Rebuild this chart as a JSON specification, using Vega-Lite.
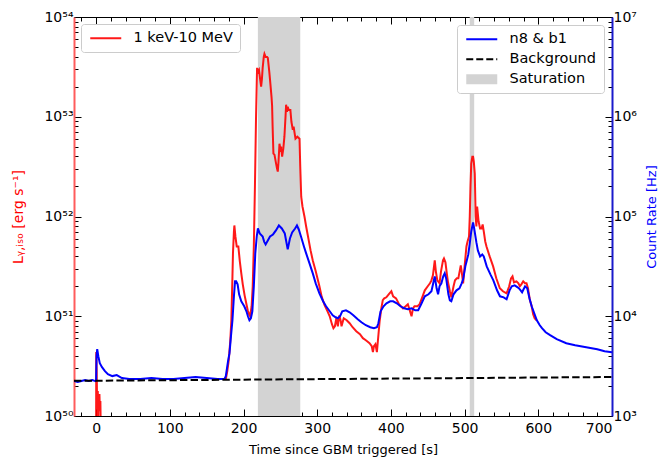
{
  "$schema": "https://vega.github.io/schema/vega-lite/v6.json",
  "autosize": "none",
  "width": 538,
  "height": 399,
  "padding": {"left": 74, "top": 17, "right": 50, "bottom": 42},
  "config": {
    "font": "DejaVu Sans",
    "view": {"stroke": "black", "strokeWidth": 1},
    "axis": {"labelFont": "DejaVu Sans", "titleFont": "DejaVu Sans", "labelFontSize": 14, "titleFontSize": 13, "labelColor": "black", "tickColor": "black", "grid": false, "titleFontWeight": "normal"},
    "legend": {"labelFont": "DejaVu Sans", "labelFontSize": 14.5}
  },
  "datasets": {
    "sat": [{"start": 219.5, "end": 277}, {"start": 507, "end": 513}],
    "lum": [
      {"t": -0.2, "L": 1e49, "seg": "a", "name": "1 keV-10 MeV"},
      {"t": 0.2, "L": 4.37e50, "seg": "a", "name": "1 keV-10 MeV"},
      {"t": 0.8, "L": 2.82e50, "seg": "a", "name": "1 keV-10 MeV"},
      {"t": 1.3, "L": 1.41e50, "seg": "a", "name": "1 keV-10 MeV"},
      {"t": 1.8, "L": 1.12e50, "seg": "a", "name": "1 keV-10 MeV"},
      {"t": 2.3, "L": 1.78e50, "seg": "a", "name": "1 keV-10 MeV"},
      {"t": 2.8, "L": 8e49, "seg": "a", "name": "1 keV-10 MeV"},
      {"t": 3.3, "L": 1.58e50, "seg": "a", "name": "1 keV-10 MeV"},
      {"t": 3.8, "L": 1.26e50, "seg": "a", "name": "1 keV-10 MeV"},
      {"t": 4.5, "L": 1.66e50, "seg": "a", "name": "1 keV-10 MeV"},
      {"t": 5.2, "L": 1.12e50, "seg": "a", "name": "1 keV-10 MeV"},
      {"t": 5.8, "L": 1.41e50, "seg": "a", "name": "1 keV-10 MeV"},
      {"t": 6.5, "L": 6e49, "seg": "a", "name": "1 keV-10 MeV"},
      {"t": 7, "L": 1e49, "seg": "a", "name": "1 keV-10 MeV"},
      {"t": 176, "L": 2.34e50, "seg": "b", "name": "1 keV-10 MeV"},
      {"t": 178, "L": 2.82e50, "seg": "b", "name": "1 keV-10 MeV"},
      {"t": 180, "L": 3.63e50, "seg": "b", "name": "1 keV-10 MeV"},
      {"t": 182, "L": 5.62e50, "seg": "b", "name": "1 keV-10 MeV"},
      {"t": 183.5, "L": 9.12e50, "seg": "b", "name": "1 keV-10 MeV"},
      {"t": 185, "L": 2.51e51, "seg": "b", "name": "1 keV-10 MeV"},
      {"t": 185.7, "L": 4.27e51, "seg": "b", "name": "1 keV-10 MeV"},
      {"t": 187, "L": 7.08e51, "seg": "b", "name": "1 keV-10 MeV"},
      {"t": 187.6, "L": 8.13e51, "seg": "b", "name": "1 keV-10 MeV"},
      {"t": 189, "L": 6.31e51, "seg": "b", "name": "1 keV-10 MeV"},
      {"t": 190.8, "L": 5.01e51, "seg": "b", "name": "1 keV-10 MeV"},
      {"t": 193, "L": 5.01e51, "seg": "b", "name": "1 keV-10 MeV"},
      {"t": 195, "L": 3.55e51, "seg": "b", "name": "1 keV-10 MeV"},
      {"t": 197, "L": 2.69e51, "seg": "b", "name": "1 keV-10 MeV"},
      {"t": 199, "L": 2.09e51, "seg": "b", "name": "1 keV-10 MeV"},
      {"t": 201.5, "L": 1.62e51, "seg": "b", "name": "1 keV-10 MeV"},
      {"t": 204, "L": 1.32e51, "seg": "b", "name": "1 keV-10 MeV"},
      {"t": 205.7, "L": 1.15e51, "seg": "b", "name": "1 keV-10 MeV"},
      {"t": 207.5, "L": 1.05e51, "seg": "b", "name": "1 keV-10 MeV"},
      {"t": 209, "L": 1.0e51, "seg": "b", "name": "1 keV-10 MeV"},
      {"t": 211, "L": 1.26e51, "seg": "b", "name": "1 keV-10 MeV"},
      {"t": 212.5, "L": 2.0e51, "seg": "b", "name": "1 keV-10 MeV"},
      {"t": 214, "L": 5.01e51, "seg": "b", "name": "1 keV-10 MeV"},
      {"t": 215.5, "L": 2.0e52, "seg": "b", "name": "1 keV-10 MeV"},
      {"t": 217, "L": 1.0e53, "seg": "b", "name": "1 keV-10 MeV"},
      {"t": 218.4, "L": 3.09e53, "seg": "b", "name": "1 keV-10 MeV"},
      {"t": 219.5, "L": 2.82e53, "seg": "b", "name": "1 keV-10 MeV"},
      {"t": 221, "L": 2.95e53, "seg": "b", "name": "1 keV-10 MeV"},
      {"t": 222.5, "L": 2.4e53, "seg": "b", "name": "1 keV-10 MeV"},
      {"t": 223.9, "L": 2.0e53, "seg": "b", "name": "1 keV-10 MeV"},
      {"t": 225, "L": 2.4e53, "seg": "b", "name": "1 keV-10 MeV"},
      {"t": 226, "L": 3.09e53, "seg": "b", "name": "1 keV-10 MeV"},
      {"t": 227.5, "L": 3.98e53, "seg": "b", "name": "1 keV-10 MeV"},
      {"t": 228.4, "L": 4.27e53, "seg": "b", "name": "1 keV-10 MeV"},
      {"t": 230, "L": 3.98e53, "seg": "b", "name": "1 keV-10 MeV"},
      {"t": 232, "L": 3.98e53, "seg": "b", "name": "1 keV-10 MeV"},
      {"t": 233, "L": 3.89e53, "seg": "b", "name": "1 keV-10 MeV"},
      {"t": 235, "L": 2.82e53, "seg": "b", "name": "1 keV-10 MeV"},
      {"t": 236, "L": 2.34e53, "seg": "b", "name": "1 keV-10 MeV"},
      {"t": 238, "L": 1.58e53, "seg": "b", "name": "1 keV-10 MeV"},
      {"t": 238.8, "L": 1.29e53, "seg": "b", "name": "1 keV-10 MeV"},
      {"t": 239.5, "L": 7.94e52, "seg": "b", "name": "1 keV-10 MeV"},
      {"t": 240.6, "L": 4.27e52, "seg": "b", "name": "1 keV-10 MeV"},
      {"t": 242, "L": 4.17e52, "seg": "b", "name": "1 keV-10 MeV"},
      {"t": 244.2, "L": 3.39e52, "seg": "b", "name": "1 keV-10 MeV"},
      {"t": 245.5, "L": 3.02e52, "seg": "b", "name": "1 keV-10 MeV"},
      {"t": 246.5, "L": 2.82e52, "seg": "b", "name": "1 keV-10 MeV"},
      {"t": 247.5, "L": 3.55e52, "seg": "b", "name": "1 keV-10 MeV"},
      {"t": 248.8, "L": 5.37e52, "seg": "b", "name": "1 keV-10 MeV"},
      {"t": 250, "L": 4.79e52, "seg": "b", "name": "1 keV-10 MeV"},
      {"t": 251, "L": 5.01e52, "seg": "b", "name": "1 keV-10 MeV"},
      {"t": 252.4, "L": 3.98e52, "seg": "b", "name": "1 keV-10 MeV"},
      {"t": 254, "L": 4.79e52, "seg": "b", "name": "1 keV-10 MeV"},
      {"t": 255.5, "L": 6.31e52, "seg": "b", "name": "1 keV-10 MeV"},
      {"t": 257, "L": 1.0e53, "seg": "b", "name": "1 keV-10 MeV"},
      {"t": 257.8, "L": 1.32e53, "seg": "b", "name": "1 keV-10 MeV"},
      {"t": 259, "L": 1.12e53, "seg": "b", "name": "1 keV-10 MeV"},
      {"t": 260, "L": 1.26e53, "seg": "b", "name": "1 keV-10 MeV"},
      {"t": 261.4, "L": 1.17e53, "seg": "b", "name": "1 keV-10 MeV"},
      {"t": 263.6, "L": 1.17e53, "seg": "b", "name": "1 keV-10 MeV"},
      {"t": 265, "L": 8.91e52, "seg": "b", "name": "1 keV-10 MeV"},
      {"t": 266.9, "L": 7.41e52, "seg": "b", "name": "1 keV-10 MeV"},
      {"t": 268, "L": 7.94e52, "seg": "b", "name": "1 keV-10 MeV"},
      {"t": 270.5, "L": 6.03e52, "seg": "b", "name": "1 keV-10 MeV"},
      {"t": 273, "L": 6.31e52, "seg": "b", "name": "1 keV-10 MeV"},
      {"t": 276, "L": 6.03e52, "seg": "b", "name": "1 keV-10 MeV"},
      {"t": 277, "L": 3.16e52, "seg": "b", "name": "1 keV-10 MeV"},
      {"t": 278.3, "L": 1.58e52, "seg": "b", "name": "1 keV-10 MeV"},
      {"t": 280, "L": 1.26e52, "seg": "b", "name": "1 keV-10 MeV"},
      {"t": 282.7, "L": 1.0e52, "seg": "b", "name": "1 keV-10 MeV"},
      {"t": 285, "L": 7.94e51, "seg": "b", "name": "1 keV-10 MeV"},
      {"t": 288, "L": 6.03e51, "seg": "b", "name": "1 keV-10 MeV"},
      {"t": 291, "L": 4.57e51, "seg": "b", "name": "1 keV-10 MeV"},
      {"t": 294, "L": 3.63e51, "seg": "b", "name": "1 keV-10 MeV"},
      {"t": 298, "L": 2.82e51, "seg": "b", "name": "1 keV-10 MeV"},
      {"t": 303, "L": 2.0e51, "seg": "b", "name": "1 keV-10 MeV"},
      {"t": 306, "L": 1.58e51, "seg": "b", "name": "1 keV-10 MeV"},
      {"t": 310, "L": 1.29e51, "seg": "b", "name": "1 keV-10 MeV"},
      {"t": 314, "L": 1.12e51, "seg": "b", "name": "1 keV-10 MeV"},
      {"t": 317, "L": 1.0e51, "seg": "b", "name": "1 keV-10 MeV"},
      {"t": 320, "L": 8.32e50, "seg": "b", "name": "1 keV-10 MeV"},
      {"t": 322, "L": 7.59e50, "seg": "b", "name": "1 keV-10 MeV"},
      {"t": 324, "L": 7.94e50, "seg": "b", "name": "1 keV-10 MeV"},
      {"t": 326, "L": 9.55e50, "seg": "b", "name": "1 keV-10 MeV"},
      {"t": 328, "L": 7.94e50, "seg": "b", "name": "1 keV-10 MeV"},
      {"t": 330, "L": 1.02e51, "seg": "b", "name": "1 keV-10 MeV"},
      {"t": 332, "L": 8.91e50, "seg": "b", "name": "1 keV-10 MeV"},
      {"t": 333, "L": 7.94e50, "seg": "b", "name": "1 keV-10 MeV"},
      {"t": 336, "L": 9.55e50, "seg": "b", "name": "1 keV-10 MeV"},
      {"t": 340, "L": 9.12e50, "seg": "b", "name": "1 keV-10 MeV"},
      {"t": 344, "L": 8.51e50, "seg": "b", "name": "1 keV-10 MeV"},
      {"t": 348, "L": 7.76e50, "seg": "b", "name": "1 keV-10 MeV"},
      {"t": 353, "L": 7.08e50, "seg": "b", "name": "1 keV-10 MeV"},
      {"t": 358, "L": 6.61e50, "seg": "b", "name": "1 keV-10 MeV"},
      {"t": 362, "L": 6.03e50, "seg": "b", "name": "1 keV-10 MeV"},
      {"t": 366, "L": 5.75e50, "seg": "b", "name": "1 keV-10 MeV"},
      {"t": 371, "L": 5.37e50, "seg": "b", "name": "1 keV-10 MeV"},
      {"t": 374, "L": 5.01e50, "seg": "b", "name": "1 keV-10 MeV"},
      {"t": 375.6, "L": 4.37e50, "seg": "b", "name": "1 keV-10 MeV"},
      {"t": 377, "L": 5.01e50, "seg": "b", "name": "1 keV-10 MeV"},
      {"t": 379, "L": 5.25e50, "seg": "b", "name": "1 keV-10 MeV"},
      {"t": 381, "L": 4.37e50, "seg": "b", "name": "1 keV-10 MeV"},
      {"t": 384.7, "L": 8.91e50, "seg": "b", "name": "1 keV-10 MeV"},
      {"t": 387, "L": 1.2e51, "seg": "b", "name": "1 keV-10 MeV"},
      {"t": 389, "L": 1.45e51, "seg": "b", "name": "1 keV-10 MeV"},
      {"t": 391, "L": 1.51e51, "seg": "b", "name": "1 keV-10 MeV"},
      {"t": 393.8, "L": 1.55e51, "seg": "b", "name": "1 keV-10 MeV"},
      {"t": 397, "L": 1.66e51, "seg": "b", "name": "1 keV-10 MeV"},
      {"t": 400.6, "L": 1.78e51, "seg": "b", "name": "1 keV-10 MeV"},
      {"t": 403, "L": 1.58e51, "seg": "b", "name": "1 keV-10 MeV"},
      {"t": 407, "L": 1.51e51, "seg": "b", "name": "1 keV-10 MeV"},
      {"t": 411, "L": 1.32e51, "seg": "b", "name": "1 keV-10 MeV"},
      {"t": 416.4, "L": 1.2e51, "seg": "b", "name": "1 keV-10 MeV"},
      {"t": 420, "L": 1.26e51, "seg": "b", "name": "1 keV-10 MeV"},
      {"t": 423, "L": 1.32e51, "seg": "b", "name": "1 keV-10 MeV"},
      {"t": 426, "L": 1.12e51, "seg": "b", "name": "1 keV-10 MeV"},
      {"t": 428, "L": 1.0e51, "seg": "b", "name": "1 keV-10 MeV"},
      {"t": 430, "L": 1.2e51, "seg": "b", "name": "1 keV-10 MeV"},
      {"t": 432, "L": 1.26e51, "seg": "b", "name": "1 keV-10 MeV"},
      {"t": 436, "L": 1.26e51, "seg": "b", "name": "1 keV-10 MeV"},
      {"t": 439, "L": 1.32e51, "seg": "b", "name": "1 keV-10 MeV"},
      {"t": 443, "L": 1.58e51, "seg": "b", "name": "1 keV-10 MeV"},
      {"t": 446, "L": 1.82e51, "seg": "b", "name": "1 keV-10 MeV"},
      {"t": 450, "L": 2.0e51, "seg": "b", "name": "1 keV-10 MeV"},
      {"t": 453, "L": 2.14e51, "seg": "b", "name": "1 keV-10 MeV"},
      {"t": 455, "L": 2.29e51, "seg": "b", "name": "1 keV-10 MeV"},
      {"t": 457, "L": 2.57e51, "seg": "b", "name": "1 keV-10 MeV"},
      {"t": 459.5, "L": 3.63e51, "seg": "b", "name": "1 keV-10 MeV"},
      {"t": 461, "L": 2.82e51, "seg": "b", "name": "1 keV-10 MeV"},
      {"t": 463, "L": 2.29e51, "seg": "b", "name": "1 keV-10 MeV"},
      {"t": 466, "L": 2.14e51, "seg": "b", "name": "1 keV-10 MeV"},
      {"t": 468, "L": 2.82e51, "seg": "b", "name": "1 keV-10 MeV"},
      {"t": 470.7, "L": 3.63e51, "seg": "b", "name": "1 keV-10 MeV"},
      {"t": 472, "L": 3.8e51, "seg": "b", "name": "1 keV-10 MeV"},
      {"t": 474, "L": 3.47e51, "seg": "b", "name": "1 keV-10 MeV"},
      {"t": 476, "L": 2.63e51, "seg": "b", "name": "1 keV-10 MeV"},
      {"t": 477.5, "L": 2.19e51, "seg": "b", "name": "1 keV-10 MeV"},
      {"t": 480, "L": 1.78e51, "seg": "b", "name": "1 keV-10 MeV"},
      {"t": 482, "L": 1.55e51, "seg": "b", "name": "1 keV-10 MeV"},
      {"t": 485, "L": 2.0e51, "seg": "b", "name": "1 keV-10 MeV"},
      {"t": 487, "L": 2.29e51, "seg": "b", "name": "1 keV-10 MeV"},
      {"t": 489.5, "L": 2.4e51, "seg": "b", "name": "1 keV-10 MeV"},
      {"t": 491.5, "L": 2.4e51, "seg": "b", "name": "1 keV-10 MeV"},
      {"t": 494.8, "L": 3.24e51, "seg": "b", "name": "1 keV-10 MeV"},
      {"t": 496, "L": 2.82e51, "seg": "b", "name": "1 keV-10 MeV"},
      {"t": 498, "L": 2.14e51, "seg": "b", "name": "1 keV-10 MeV"},
      {"t": 500, "L": 3.16e51, "seg": "b", "name": "1 keV-10 MeV"},
      {"t": 502.5, "L": 5.01e51, "seg": "b", "name": "1 keV-10 MeV"},
      {"t": 504, "L": 5.62e51, "seg": "b", "name": "1 keV-10 MeV"},
      {"t": 506, "L": 6.31e51, "seg": "b", "name": "1 keV-10 MeV"},
      {"t": 507, "L": 1.0e52, "seg": "b", "name": "1 keV-10 MeV"},
      {"t": 508, "L": 2.0e52, "seg": "b", "name": "1 keV-10 MeV"},
      {"t": 509, "L": 3.39e52, "seg": "b", "name": "1 keV-10 MeV"},
      {"t": 510.5, "L": 3.98e52, "seg": "b", "name": "1 keV-10 MeV"},
      {"t": 511.5, "L": 3.98e52, "seg": "b", "name": "1 keV-10 MeV"},
      {"t": 512.5, "L": 3.55e52, "seg": "b", "name": "1 keV-10 MeV"},
      {"t": 513.8, "L": 2.69e52, "seg": "b", "name": "1 keV-10 MeV"},
      {"t": 515, "L": 1.0e52, "seg": "b", "name": "1 keV-10 MeV"},
      {"t": 516, "L": 7.94e51, "seg": "b", "name": "1 keV-10 MeV"},
      {"t": 517, "L": 1.26e52, "seg": "b", "name": "1 keV-10 MeV"},
      {"t": 519, "L": 8.91e51, "seg": "b", "name": "1 keV-10 MeV"},
      {"t": 521, "L": 7.59e51, "seg": "b", "name": "1 keV-10 MeV"},
      {"t": 523, "L": 7.59e51, "seg": "b", "name": "1 keV-10 MeV"},
      {"t": 524.5, "L": 8.32e51, "seg": "b", "name": "1 keV-10 MeV"},
      {"t": 526, "L": 7.08e51, "seg": "b", "name": "1 keV-10 MeV"},
      {"t": 528, "L": 5.62e51, "seg": "b", "name": "1 keV-10 MeV"},
      {"t": 529.7, "L": 5.01e51, "seg": "b", "name": "1 keV-10 MeV"},
      {"t": 534, "L": 3.98e51, "seg": "b", "name": "1 keV-10 MeV"},
      {"t": 538.7, "L": 3.16e51, "seg": "b", "name": "1 keV-10 MeV"},
      {"t": 543, "L": 2.4e51, "seg": "b", "name": "1 keV-10 MeV"},
      {"t": 547.8, "L": 1.91e51, "seg": "b", "name": "1 keV-10 MeV"},
      {"t": 552, "L": 1.78e51, "seg": "b", "name": "1 keV-10 MeV"},
      {"t": 556.9, "L": 1.7e51, "seg": "b", "name": "1 keV-10 MeV"},
      {"t": 558.5, "L": 1.82e51, "seg": "b", "name": "1 keV-10 MeV"},
      {"t": 560.5, "L": 2.0e51, "seg": "b", "name": "1 keV-10 MeV"},
      {"t": 563, "L": 2.4e51, "seg": "b", "name": "1 keV-10 MeV"},
      {"t": 565, "L": 2.51e51, "seg": "b", "name": "1 keV-10 MeV"},
      {"t": 567, "L": 2.19e51, "seg": "b", "name": "1 keV-10 MeV"},
      {"t": 570.4, "L": 2.24e51, "seg": "b", "name": "1 keV-10 MeV"},
      {"t": 573, "L": 2.14e51, "seg": "b", "name": "1 keV-10 MeV"},
      {"t": 575, "L": 2.0e51, "seg": "b", "name": "1 keV-10 MeV"},
      {"t": 577, "L": 2.09e51, "seg": "b", "name": "1 keV-10 MeV"},
      {"t": 579.5, "L": 2.24e51, "seg": "b", "name": "1 keV-10 MeV"},
      {"t": 582, "L": 2.14e51, "seg": "b", "name": "1 keV-10 MeV"},
      {"t": 584, "L": 2.14e51, "seg": "b", "name": "1 keV-10 MeV"},
      {"t": 586, "L": 1.91e51, "seg": "b", "name": "1 keV-10 MeV"},
      {"t": 588.6, "L": 1.45e51, "seg": "b", "name": "1 keV-10 MeV"},
      {"t": 591, "L": 1.26e51, "seg": "b", "name": "1 keV-10 MeV"},
      {"t": 593, "L": 1.05e51, "seg": "b", "name": "1 keV-10 MeV"},
      {"t": 595, "L": 9.55e50, "seg": "b", "name": "1 keV-10 MeV"},
      {"t": 597.7, "L": 9.12e50, "seg": "b", "name": "1 keV-10 MeV"}
    ],
    "rate": [
      {"t": -30, "rate": 2239}, {"t": -25, "rate": 2188}, {"t": -20, "rate": 2239}, {"t": -15, "rate": 2291},
      {"t": -10, "rate": 2239}, {"t": -5, "rate": 2291}, {"t": -1, "rate": 2239}, {"t": 0, "rate": 2291},
      {"t": 0.6, "rate": 3981}, {"t": 1.5, "rate": 4677}, {"t": 3, "rate": 3981}, {"t": 5, "rate": 3388},
      {"t": 8, "rate": 3090}, {"t": 12, "rate": 2818}, {"t": 16, "rate": 2630}, {"t": 22, "rate": 2512},
      {"t": 28, "rate": 2570}, {"t": 35, "rate": 2399}, {"t": 45, "rate": 2344}, {"t": 60, "rate": 2344},
      {"t": 75, "rate": 2399}, {"t": 90, "rate": 2344}, {"t": 105, "rate": 2344}, {"t": 120, "rate": 2399},
      {"t": 135, "rate": 2455}, {"t": 150, "rate": 2399}, {"t": 165, "rate": 2344}, {"t": 174, "rate": 2344},
      {"t": 176, "rate": 2512}, {"t": 179, "rate": 3548}, {"t": 181, "rate": 4266}, {"t": 183, "rate": 6310},
      {"t": 185, "rate": 9120}, {"t": 187, "rate": 15849}, {"t": 188.5, "rate": 22387}, {"t": 190, "rate": 22387},
      {"t": 192, "rate": 20893}, {"t": 194, "rate": 16596}, {"t": 197, "rate": 14125}, {"t": 201, "rate": 12589},
      {"t": 204, "rate": 11220}, {"t": 206, "rate": 10000}, {"t": 208, "rate": 9120}, {"t": 210, "rate": 9550},
      {"t": 212, "rate": 11220}, {"t": 214, "rate": 19953}, {"t": 216, "rate": 42658}, {"t": 218, "rate": 63096},
      {"t": 219.5, "rate": 75858}, {"t": 222, "rate": 67608}, {"t": 226, "rate": 63096}, {"t": 228, "rate": 56000},
      {"t": 230, "rate": 52481}, {"t": 233, "rate": 57544}, {"t": 236, "rate": 63096}, {"t": 240, "rate": 66069},
      {"t": 244, "rate": 72444}, {"t": 248, "rate": 81283}, {"t": 252, "rate": 75858}, {"t": 256, "rate": 67608},
      {"t": 260, "rate": 46774}, {"t": 263, "rate": 60256}, {"t": 266, "rate": 69183}, {"t": 270, "rate": 75858},
      {"t": 272.5, "rate": 81283}, {"t": 275, "rate": 74131}, {"t": 278, "rate": 63096}, {"t": 282, "rate": 50119},
      {"t": 285, "rate": 42658}, {"t": 290, "rate": 33113}, {"t": 294, "rate": 26915}, {"t": 298, "rate": 21380},
      {"t": 303, "rate": 16982}, {"t": 308, "rate": 14125}, {"t": 312, "rate": 12589}, {"t": 317, "rate": 11220},
      {"t": 321, "rate": 10233}, {"t": 325, "rate": 9772}, {"t": 328, "rate": 9550}, {"t": 331, "rate": 10000},
      {"t": 334, "rate": 11220}, {"t": 339, "rate": 11482}, {"t": 344, "rate": 10965}, {"t": 349, "rate": 10233},
      {"t": 355, "rate": 9333}, {"t": 360, "rate": 8710}, {"t": 366, "rate": 8128}, {"t": 372, "rate": 7762},
      {"t": 377, "rate": 7586}, {"t": 381, "rate": 7762}, {"t": 383, "rate": 8511}, {"t": 386, "rate": 11220},
      {"t": 390, "rate": 12589}, {"t": 394, "rate": 13490}, {"t": 399, "rate": 14125}, {"t": 403, "rate": 14125},
      {"t": 408, "rate": 13490}, {"t": 413, "rate": 12589}, {"t": 418, "rate": 12023}, {"t": 423, "rate": 11749},
      {"t": 428, "rate": 12023}, {"t": 433, "rate": 11482}, {"t": 437, "rate": 11482}, {"t": 441, "rate": 13183},
      {"t": 446, "rate": 15849}, {"t": 451, "rate": 16596}, {"t": 455, "rate": 17783}, {"t": 458, "rate": 22387},
      {"t": 459.5, "rate": 25119}, {"t": 462, "rate": 19055}, {"t": 464, "rate": 16596}, {"t": 466, "rate": 19953},
      {"t": 468.5, "rate": 21380}, {"t": 471, "rate": 25119}, {"t": 473, "rate": 26915}, {"t": 475, "rate": 23988},
      {"t": 478, "rate": 16596}, {"t": 480, "rate": 14454}, {"t": 482, "rate": 14125}, {"t": 485, "rate": 16596},
      {"t": 489, "rate": 18197}, {"t": 493, "rate": 19055}, {"t": 496, "rate": 21380}, {"t": 498, "rate": 23442},
      {"t": 501, "rate": 31623}, {"t": 503, "rate": 36308}, {"t": 505, "rate": 41687}, {"t": 507, "rate": 53703},
      {"t": 509, "rate": 70795}, {"t": 511.5, "rate": 87096}, {"t": 513, "rate": 75858}, {"t": 516, "rate": 54954},
      {"t": 518, "rate": 45709}, {"t": 521, "rate": 39811}, {"t": 524, "rate": 41687}, {"t": 526, "rate": 39811},
      {"t": 530, "rate": 31623}, {"t": 535, "rate": 26303}, {"t": 539, "rate": 22909}, {"t": 544, "rate": 18197},
      {"t": 548, "rate": 15849}, {"t": 553, "rate": 15488}, {"t": 557, "rate": 14791}, {"t": 561, "rate": 18197},
      {"t": 564, "rate": 19953}, {"t": 568, "rate": 20417}, {"t": 572, "rate": 19498}, {"t": 575, "rate": 18621},
      {"t": 578, "rate": 17378}, {"t": 582, "rate": 19953}, {"t": 585, "rate": 19055}, {"t": 588, "rate": 15136},
      {"t": 591, "rate": 12589}, {"t": 595, "rate": 10471}, {"t": 598, "rate": 9120}, {"t": 602, "rate": 8128},
      {"t": 605, "rate": 7586}, {"t": 610, "rate": 6918}, {"t": 616, "rate": 6457}, {"t": 625, "rate": 5888},
      {"t": 638, "rate": 5370}, {"t": 650, "rate": 5129}, {"t": 665, "rate": 4898}, {"t": 680, "rate": 4677},
      {"t": 690, "rate": 4467}, {"t": 700, "rate": 4365}
    ],
    "bg": [{"t": -30, "rate": 2250}, {"t": 700, "rate": 2460}]
  },
  "layer": [
    {
      "data": {"name": "sat"},
      "mark": {"type": "rect", "color": "#d3d3d3"},
      "encoding": {
        "x": {"field": "start", "type": "quantitative", "scale": {"domain": [-30, 700], "nice": false},
          "axis": {"orient": "top", "title": null, "labels": false, "domain": false,
            "values": [-20, 0, 20, 40, 60, 80, 100, 120, 140, 160, 180, 200, 220, 240, 260, 280, 300, 320, 340, 360, 380, 400, 420, 440, 460, 480, 500, 520, 540, 560, 580, 600, 620, 640, 660, 680, 700],
            "tickSize": {"condition": {"test": "datum.value % 100 == 0", "value": -7}, "value": -4}}},
        "x2": {"field": "end"}
      }
    },
    {
      "data": {"name": "lum"},
      "mark": {"type": "line", "strokeWidth": 2, "clip": true, "opacity": 0.9},
      "encoding": {
        "x": {"field": "t", "type": "quantitative", "scale": {"domain": [-30, 700], "nice": false},
          "axis": {"orient": "bottom", "title": "Time since GBM triggered [s]", "domain": false, "titlePadding": 8, "labelPadding": 12,
            "values": [-20, 0, 20, 40, 60, 80, 100, 120, 140, 160, 180, 200, 220, 240, 260, 280, 300, 320, 340, 360, 380, 400, 420, 440, 460, 480, 500, 520, 540, 560, 580, 600, 620, 640, 660, 680, 700],
            "labelExpr": "datum.value % 100 == 0 ? datum.label : ''",
            "tickSize": {"condition": {"test": "datum.value % 100 == 0", "value": -7}, "value": -4}}},
        "y": {"field": "L", "type": "quantitative", "scale": {"type": "log", "domain": [1e50, 1e54], "nice": false},
          "axis": {"orient": "left", "title": "Lᵧ,ᵢₛₒ [erg s⁻¹]", "titleColor": "#ff0000", "titleFontSize": 14, "domainColor": "#ff5c5c", "domainWidth": 2, "labelPadding": 8, "titlePadding": 18,
            "values": [1e50, 2e50, 3e50, 4e50, 5e50, 6e50, 7e50, 8e50, 9e50, 1e51, 2e51, 3e51, 4e51, 5e51, 6e51, 7e51, 8e51, 9e51, 1e52, 2e52, 3e52, 4e52, 5e52, 6e52, 7e52, 8e52, 9e52, 1e53, 2e53, 3e53, 4e53, 5e53, 6e53, 7e53, 8e53, 9e53, 1e54],
            "labelExpr": "datum.value == 1e50 ? '10⁵⁰' : datum.value == 1e51 ? '10⁵¹' : datum.value == 1e52 ? '10⁵²' : datum.value == 1e53 ? '10⁵³' : datum.value == 1e54 ? '10⁵⁴' : ''",
            "tickSize": {"condition": {"test": "datum.value == 1e50 || datum.value == 1e51 || datum.value == 1e52 || datum.value == 1e53 || datum.value == 1e54", "value": -7}, "value": -4}}},
        "detail": {"field": "seg"},
        "color": {"field": "name", "type": "nominal", "scale": {"domain": ["1 keV-10 MeV"], "range": ["#ff0000"]},
          "legend": {"orient": "top-left", "offset": 7, "title": null, "symbolType": "M-1,0H5.2", "symbolSize": 100, "symbolStrokeWidth": 2, "labelOffset": 31,
            "fillColor": "white", "strokeColor": "#cccccc", "cornerRadius": 3, "padding": 7}}
      }
    },
    {
      "layer": [
        {
          "data": {"name": "rate"},
          "transform": [{"calculate": "'n8 & b1'", "as": "series"}],
          "mark": {"type": "line", "strokeWidth": 2, "clip": true},
          "encoding": {
            "x": {"field": "t", "type": "quantitative", "scale": {"domain": [-30, 700], "nice": false}, "axis": null},
            "y": {"field": "rate", "type": "quantitative", "scale": {"type": "log", "domain": [1e3, 1e7], "nice": false},
              "axis": {"orient": "right", "title": "Count Rate [Hz]", "titleColor": "#0000ff", "titleAngle": 270, "domainColor": "#1a1acc", "domainWidth": 2, "labelPadding": 8, "titlePadding": 22,
                "values": [1e3, 2e3, 3e3, 4e3, 5e3, 6e3, 7e3, 8e3, 9e3, 1e4, 2e4, 3e4, 4e4, 5e4, 6e4, 7e4, 8e4, 9e4, 1e5, 2e5, 3e5, 4e5, 5e5, 6e5, 7e5, 8e5, 9e5, 1e6, 2e6, 3e6, 4e6, 5e6, 6e6, 7e6, 8e6, 9e6, 1e7],
                "labelExpr": "datum.value == 1e3 ? '10³' : datum.value == 1e4 ? '10⁴' : datum.value == 1e5 ? '10⁵' : datum.value == 1e6 ? '10⁶' : datum.value == 1e7 ? '10⁷' : ''",
                "tickSize": {"condition": {"test": "datum.value == 1e3 || datum.value == 1e4 || datum.value == 1e5 || datum.value == 1e6 || datum.value == 1e7", "value": -7}, "value": -4}}},
            "stroke": {"field": "series", "type": "nominal", "scale": {"domain": ["n8 & b1", "Background", "Saturation"], "range": ["#0000ff", "#000000", "#d3d3d3"]},
              "legend": {"orient": "top-right", "offset": 8, "title": null, "symbolType": "M-1,0H5.2", "symbolSize": 100, "symbolStrokeWidth": 2, "labelOffset": 31,
                "fillColor": "white", "strokeColor": "#cccccc", "cornerRadius": 3, "padding": 7, "rowPadding": 5,
                "encode": {"symbols": {"update": {
                  "shape": {"signal": "datum.value === 'Saturation' ? 'M-1,-1H5.2V1H-1Z' : 'M-1,0H5.2'"},
                  "fill": {"signal": "datum.value === 'Saturation' ? '#d3d3d3' : 'transparent'"},
                  "strokeDash": {"signal": "datum.value === 'Background' ? [7,3] : [1,0]"},
                  "strokeWidth": {"signal": "datum.value === 'Saturation' ? 0 : 2"}
                }}}}}
          }
        },
        {
          "data": {"name": "bg"},
          "transform": [{"calculate": "'Background'", "as": "series"}],
          "mark": {"type": "line", "strokeWidth": 2, "strokeDash": [7.4, 3.2], "clip": true},
          "encoding": {
            "x": {"field": "t", "type": "quantitative", "scale": {"domain": [-30, 700], "nice": false}, "axis": null},
            "y": {"field": "rate", "type": "quantitative", "scale": {"type": "log", "domain": [1e3, 1e7], "nice": false}},
            "stroke": {"field": "series", "type": "nominal"}
          }
        }
      ]
    }
  ],
  "resolve": {"scale": {"y": "independent"}}
}
